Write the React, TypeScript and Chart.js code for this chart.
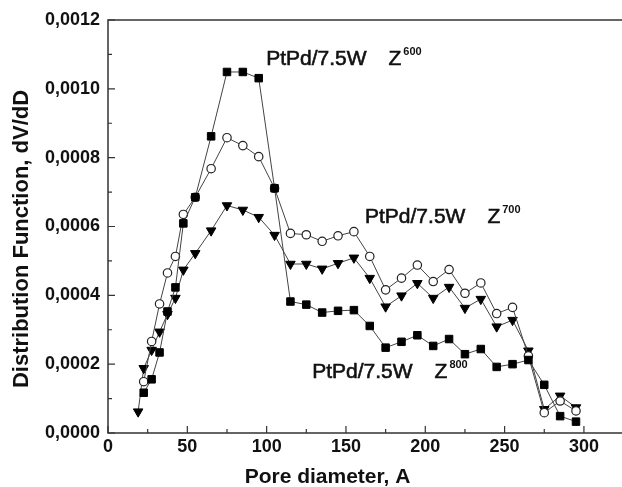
import { useEffect, useRef } from 'react';
import { Chart, registerables } from 'chart.js';
Chart.register(...registerables);

// Pore diameters (Å)
const diameters = [22.5, 27.5, 32.5, 37.5, 42.5, 47.5, 55, 65, 75, 85, 95, 105, 115, 125, 135, 145, 155, 165, 175, 185, 195, 205, 215, 225, 235, 245, 255, 265, 275, 285, 295];
const diametersTri = [19, 22.5, 27.5, 32.5, 37.5, 42.5, 47.5, 55, 65, 75, 85, 95, 105, 115, 125, 135, 145, 155, 165, 175, 185, 195, 205, 215, 225, 235, 245, 255, 265, 275, 285, 295];

// Distribution function dV/dD
const seriesSquares = [0.000117, 0.000156, 0.000234, 0.000353, 0.000423, 0.000609, 0.000685, 0.000862, 0.001049, 0.001049, 0.001031, 0.000711, 0.000382, 0.000373, 0.000350, 0.000355, 0.000357, 0.000311, 0.000248, 0.000265, 0.000284, 0.000253, 0.000273, 0.000229, 0.000244, 0.000192, 0.000200, 0.000212, 0.000140, 0.000049, 0.000033];
const seriesCircles = [0.000149, 0.000266, 0.000375, 0.000465, 0.000513, 0.000635, 0.000685, 0.000768, 0.000858, 0.000835, 0.000803, 0.000711, 0.000580, 0.000576, 0.000557, 0.000573, 0.000585, 0.000513, 0.000416, 0.000450, 0.000488, 0.000440, 0.000475, 0.000406, 0.000436, 0.000347, 0.000365, 0.000224, 0.000059, 0.000093, 0.000064];
const seriesTriangles = [0.000062, 0.000188, 0.000241, 0.000294, 0.000345, 0.000392, 0.000474, 0.000522, 0.000588, 0.000661, 0.000648, 0.000627, 0.000575, 0.000491, 0.000491, 0.000477, 0.000493, 0.000509, 0.000450, 0.000367, 0.000399, 0.000435, 0.000392, 0.000424, 0.000363, 0.000389, 0.000309, 0.000328, 0.000239, 0.000069, 0.000108, 0.000074];

const seriesNames = ['PtPd/7.5W Z600', 'PtPd/7.5W Z700', 'PtPd/7.5W Z800'];
const xTickValues = [0, 50, 100, 150, 200, 250, 300];
const xMinorValues = [25, 75, 125, 175, 225, 275];
const yTickValues = [0, 0.0002, 0.0004, 0.0006, 0.0008, 0.001, 0.0012];
const yMinorValues = [0.0001, 0.0003, 0.0005, 0.0007, 0.0009, 0.0011];

const xTitle = 'Pore diameter, A';
const yTitle = 'Distribution Function, dV/dD';

const annotations = [
  { text: 'PtPd/7.5W', z: 'Z', sup: '600', x: 99.7, y: 0.001068 },
  { text: 'PtPd/7.5W', z: 'Z', sup: '700', x: 162, y: 0.000611 },
  { text: 'PtPd/7.5W', z: 'Z', sup: '800', x: 128.7, y: 0.00016 },
];

const FONT = '"Liberation Sans", Arial, Helvetica, sans-serif';

const decorPlugin = {
  id: 'decor',
  beforeDatasetsDraw(chart: any) {
    const { ctx, chartArea } = chart;
    const xs = chart.scales.x;
    const ys = chart.scales.y;
    ctx.save();
    ctx.strokeStyle = '#333';
    ctx.lineWidth = 1.5;
    ctx.beginPath();
    ctx.moveTo(chartArea.right, chartArea.top);
    ctx.lineTo(chartArea.left, chartArea.top);
    ctx.lineTo(chartArea.left, chartArea.bottom);
    ctx.lineTo(chartArea.right, chartArea.bottom);
    ctx.stroke();
    ctx.lineWidth = 1.2;
    ctx.beginPath();
    xTickValues.forEach((v) => {
      const px = xs.getPixelForValue(v);
      ctx.moveTo(px, chartArea.bottom);
      ctx.lineTo(px, chartArea.bottom - 7);
    });
    xMinorValues.forEach((v) => {
      const px = xs.getPixelForValue(v);
      ctx.moveTo(px, chartArea.bottom);
      ctx.lineTo(px, chartArea.bottom - 4);
    });
    yTickValues.forEach((v) => {
      const py = ys.getPixelForValue(v);
      ctx.moveTo(chartArea.left, py);
      ctx.lineTo(chartArea.left + 7, py);
    });
    yMinorValues.forEach((v) => {
      const py = ys.getPixelForValue(v);
      ctx.moveTo(chartArea.left, py);
      ctx.lineTo(chartArea.left + 4, py);
    });
    ctx.stroke();
    ctx.restore();
  },
  afterDatasetsDraw(chart: any) {
    const { ctx } = chart;
    const xs = chart.scales.x;
    const ys = chart.scales.y;
    ctx.save();
    ctx.fillStyle = '#111';
    ctx.strokeStyle = '#111';
    ctx.textBaseline = 'alphabetic';
    ctx.textAlign = 'left';
    annotations.forEach((a) => {
      const px = xs.getPixelForValue(a.x);
      const py = ys.getPixelForValue(a.y);
      ctx.font = `21px ${FONT}`;
      ctx.lineWidth = 0.6;
      ctx.fillText(a.text, px, py);
      ctx.strokeText(a.text, px, py);
      const w = ctx.measureText(a.text).width;
      const zx = px + w + 22;
      ctx.fillText(a.z, zx, py);
      ctx.strokeText(a.z, zx, py);
      const zw = ctx.measureText(a.z).width;
      ctx.font = `bold 11px ${FONT}`;
      ctx.fillText(a.sup, zx + zw + 2, py - 10);
    });
    // axis titles
    ctx.font = `bold 21px ${FONT}`;
    ctx.textAlign = 'center';
    ctx.fillText(xTitle, 327.5, 483);
    ctx.save();
    ctx.translate(22, 239);
    ctx.rotate(-Math.PI / 2);
    ctx.font = `bold 22px ${FONT}`;
    ctx.textBaseline = 'middle';
    ctx.fillText(yTitle, 0, 0);
    ctx.restore();
    ctx.restore();
  },
};

export default function App() {
  const ref = useRef<HTMLCanvasElement | null>(null);
  useEffect(() => {
    document.body.style.margin = '0';
    if (!ref.current) return;
    const chart = new Chart(ref.current, {
      type: 'line',
      data: {
        datasets: [
          {
            label: seriesNames[0],
            data: diameters.map((x, i) => ({ x, y: seriesSquares[i] })),
            borderColor: '#444',
            borderWidth: 1,
            pointStyle: 'rect',
            pointRadius: 5.3,
            pointBackgroundColor: '#000',
            pointBorderColor: '#000',
            pointBorderWidth: 1,
            tension: 0,
            order: 0,
          },
          {
            label: seriesNames[1],
            data: diameters.map((x, i) => ({ x, y: seriesCircles[i] })),
            borderColor: '#444',
            borderWidth: 1,
            pointStyle: 'circle',
            pointRadius: 4.2,
            pointBackgroundColor: '#fff',
            pointBorderColor: '#222',
            pointBorderWidth: 1.2,
            tension: 0,
            order: 1,
          },
          {
            label: seriesNames[2],
            data: diametersTri.map((x, i) => ({ x, y: seriesTriangles[i] })),
            borderColor: '#444',
            borderWidth: 1,
            pointStyle: 'triangle',
            pointRotation: 180,
            pointRadius: 5.5,
            pointBackgroundColor: '#000',
            pointBorderColor: '#000',
            pointBorderWidth: 1,
            tension: 0,
            order: 2,
          },
        ],
      },
      options: {
        animation: false,
        responsive: false,
        layout: { autoPadding: false, padding: { top: 20, right: 0, left: 0, bottom: 0 } },
        plugins: { legend: { display: false }, tooltip: { enabled: false } },
        scales: {
          x: {
            type: 'linear',
            min: 0,
            max: 324,
            grid: { display: false, drawTicks: false },
            border: { display: false },
            afterBuildTicks: (s: any) => {
              s.ticks = xTickValues.map((v) => ({ value: v }));
            },
            afterFit: (s: any) => {
              s.height = 54;
              s.paddingLeft = 0;
              s.paddingRight = 0;
            },
            ticks: {
              padding: 3,
              color: '#111',
              maxRotation: 0,
              font: { family: FONT, size: 18, weight: 'bold' },
              callback: (v: any) => String(v),
            },
          },
          y: {
            type: 'linear',
            min: 0,
            max: 0.0012,
            grid: { display: false, drawTicks: false },
            border: { display: false },
            afterBuildTicks: (s: any) => {
              s.ticks = yTickValues.map((v) => ({ value: v }));
            },
            afterFit: (s: any) => {
              s.width = 108;
            },
            ticks: {
              padding: 8,
              color: '#111',
              font: { family: FONT, size: 18, weight: 'bold' },
              callback: (v: any) => Number(v).toFixed(4).replace('.', ','),
            },
          },
        },
      } as any,
      plugins: [decorPlugin],
    });
    return () => chart.destroy();
  }, []);
  return (
    <div style={{ width: 622, height: 487 }}>
      <canvas ref={ref} width={622} height={487} style={{ display: 'block' }} />
    </div>
  );
}
